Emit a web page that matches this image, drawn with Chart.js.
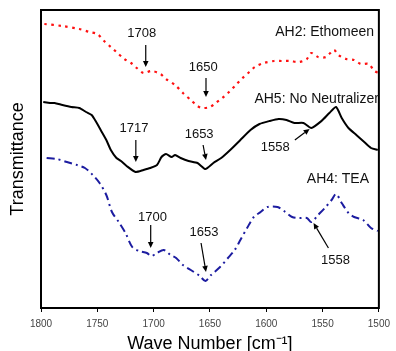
<!DOCTYPE html>
<html>
<head>
<meta charset="utf-8">
<script src="https://cdn.jsdelivr.net/npm/chart.js@4.4.1/dist/chart.umd.min.js"></script>
<style>
html,body{margin:0;padding:0;background:#fff;}
#wrap{width:396px;height:351px;position:relative;}
</style>
</head>
<body>
<div id="wrap"><canvas id="c" width="396" height="351"></canvas></div>
<script>
// ---- data (wave number [cm-1], relative transmittance) ----
const ethomeenWN = [1797,1781,1766,1757,1750,1744,1738,1733,1726,1720,1715,1709,1702,1694,1689,1681,1674,1667,1661,1657,1650,1645,1639,1633,1627,1621,1615,1610,1602,1593,1586,1579,1571,1564,1560,1554,1547,1540,1536,1529,1522,1516,1509,1504,1500];
const ethomeenT  = [284,282,279,276,274,267,261,256,249,245,240,235,237,234,229,223,215,208,202,200,201,205,210,216,223,230,236,241,245,247,247,247,246,249,255,251,251,258,253,249,248,244,244,237,235];

const noNeutWN = [1798,1792,1788,1781,1773,1766,1760,1755,1751,1747,1742,1738,1733,1729,1724,1716,1709,1703,1697,1693,1689,1684,1681,1676,1669,1661,1654,1647,1640,1632,1623,1614,1606,1597,1589,1582,1575,1567,1560,1551,1544,1538,1533,1527,1520,1513,1507,1501];
const noNeutT  = [206,205,205,203,201,200,196,193,186,178,168,158,150,147,142,136,138,140,143,151,154,151,153,150,147,145,139,145,150,158,168,178,184,187,189,188,185,185,180,187,195,201,190,180,173,166,160,158];

const teaWN = [1795,1786,1777,1768,1761,1754,1748,1742,1737,1731,1725,1719,1713,1706,1702,1697,1691,1685,1680,1674,1667,1659,1654,1649,1641,1634,1628,1623,1617,1611,1605,1599,1590,1583,1577,1571,1564,1560,1554,1548,1542,1538,1533,1527,1522,1514,1507,1501];
const teaT  = [150,149,146,143,140,133,125,113,96,86,75,61,57,55,52,55,58,53,50,43,38,32,27,33,41,50,58,68,80,91,96,101,101,96,91,90,90,86,93,100,108,114,105,95,91,88,80,77];

const seriesNames = ["AH2: Ethomeen","AH5: No Neutralizer","AH4: TEA"];
const xTicks = [1800,1750,1700,1650,1600,1550,1500];

// peak annotations: label text, label anchor (wn, T), arrow from (wn,T) to (wn,T)
const peakLabels = ["1708","1650","1717","1653","1558","1700","1653","1558"];
const peakLabelWN = [1710.5,1656,1717.5,1659.6,1592,1701,1655.3,1538.6];
const peakLabelT  = [275,241,180,174,161,91,76,48];
const arrowFromWN = [1707,1653.5,1715.8,1656.1,1574.6,1702.6,1657.9,1544.8];
const arrowFromT  = [263,230,168,163,168,83,65,60];
const arrowToWN   = [1707,1653.5,1715.8,1653.5,1561.5,1702.6,1653.5,1558];
const arrowToT    = [241,211,146,148,179,60,36,85];

// series name labels (left edge wn, T)
const nameWN = [1592,1610.5,1564];
const nameT  = [276,209,129];

function pts(xs, ys){ return xs.map((x,i)=>({x:x,y:ys[i]})); }

const annotPlugin = {
  id:'annot',
  afterDatasetsDraw(chart){
    const ctx = chart.ctx, xs = chart.scales.x, ys = chart.scales.y, a = chart.chartArea;
    ctx.save();
    // frame
    ctx.strokeStyle = '#000'; ctx.lineWidth = 2;
    ctx.strokeRect(a.left, a.top, a.right - a.left, a.bottom - a.top);
    // arrows
    ctx.fillStyle = '#000'; ctx.strokeStyle = '#000'; ctx.lineWidth = 1.2;
    for (let i=0;i<peakLabels.length;i++){
      const x1 = xs.getPixelForValue(arrowFromWN[i]), y1 = ys.getPixelForValue(arrowFromT[i]);
      const x2 = xs.getPixelForValue(arrowToWN[i]),   y2 = ys.getPixelForValue(arrowToT[i]);
      const ang = Math.atan2(y2-y1, x2-x1), L = 6, W = 2.8;
      const bx = x2 - L*Math.cos(ang), by = y2 - L*Math.sin(ang);
      ctx.beginPath(); ctx.moveTo(x1,y1); ctx.lineTo(bx,by); ctx.stroke();
      ctx.beginPath();
      ctx.moveTo(x2,y2);
      ctx.lineTo(bx + W*Math.sin(ang), by - W*Math.cos(ang));
      ctx.lineTo(bx - W*Math.sin(ang), by + W*Math.cos(ang));
      ctx.closePath(); ctx.fill();
    }
    // peak labels
    ctx.font = '13px "Liberation Sans", Arial, sans-serif';
    ctx.textAlign = 'center'; ctx.textBaseline = 'middle'; ctx.fillStyle = '#111';
    for (let i=0;i<peakLabels.length;i++){
      ctx.fillText(peakLabels[i], xs.getPixelForValue(peakLabelWN[i]), ys.getPixelForValue(peakLabelT[i]));
    }
    // series names
    ctx.font = '14px "Liberation Sans", Arial, sans-serif';
    ctx.textAlign = 'left';
    for (let i=0;i<seriesNames.length;i++){
      ctx.fillText(seriesNames[i], xs.getPixelForValue(nameWN[i]), ys.getPixelForValue(nameT[i]));
    }
    ctx.restore();
  }
};

new Chart(document.getElementById('c'), {
  type:'line',
  data:{
    datasets:[
      {label:seriesNames[0], data:pts(ethomeenWN, ethomeenT), borderColor:'#ff1010', borderWidth:2.2, borderDash:[2.5,4.5], pointRadius:0, tension:0.3, fill:false},
      {label:seriesNames[1], data:pts(noNeutWN, noNeutT), borderColor:'#000', borderWidth:2, pointRadius:0, tension:0.2, fill:false},
      {label:seriesNames[2], data:pts(teaWN, teaT), borderColor:'#1c1ca0', borderWidth:2, borderDash:[8,4,2,4], pointRadius:0, tension:0.3, fill:false}
    ]
  },
  options:{
    responsive:false, animation:false, devicePixelRatio:1,
    layout:{padding:{left:0,right:13,top:10,bottom:0}},
    plugins:{legend:{display:false}, tooltip:{enabled:false}},
    scales:{
      x:{
        type:'linear', min:1500, max:1800, reverse:true,
        afterBuildTicks(s){ s.ticks = xTicks.map(v=>({value:v})); },
        afterFit(s){ s.height = 43; },
        grid:{drawOnChartArea:false, drawTicks:true, tickLength:4, color:'#000', lineWidth:1},
        border:{display:false},
        ticks:{color:'#444', font:{family:'"Liberation Sans", Arial, sans-serif', size:10}, padding:6, maxRotation:0, autoSkip:false, callback:(v)=>String(v)},
        title:{display:true, text:'Wave Number [cm⁻¹]', color:'#000', font:{family:'"Liberation Sans", Arial, sans-serif', size:18}, padding:{top:0,bottom:-4}}
      },
      y:{
        type:'linear', min:0, max:298,
        afterFit(s){ s.width = 41; },
        grid:{display:false}, border:{display:false},
        ticks:{display:false},
        title:{display:true, text:'Transmittance', color:'#000', font:{family:'"Liberation Sans", Arial, sans-serif', size:18}, padding:{top:7,bottom:0}}
      }
    }
  },
  plugins:[annotPlugin]
});
</script>
</body>
</html>
